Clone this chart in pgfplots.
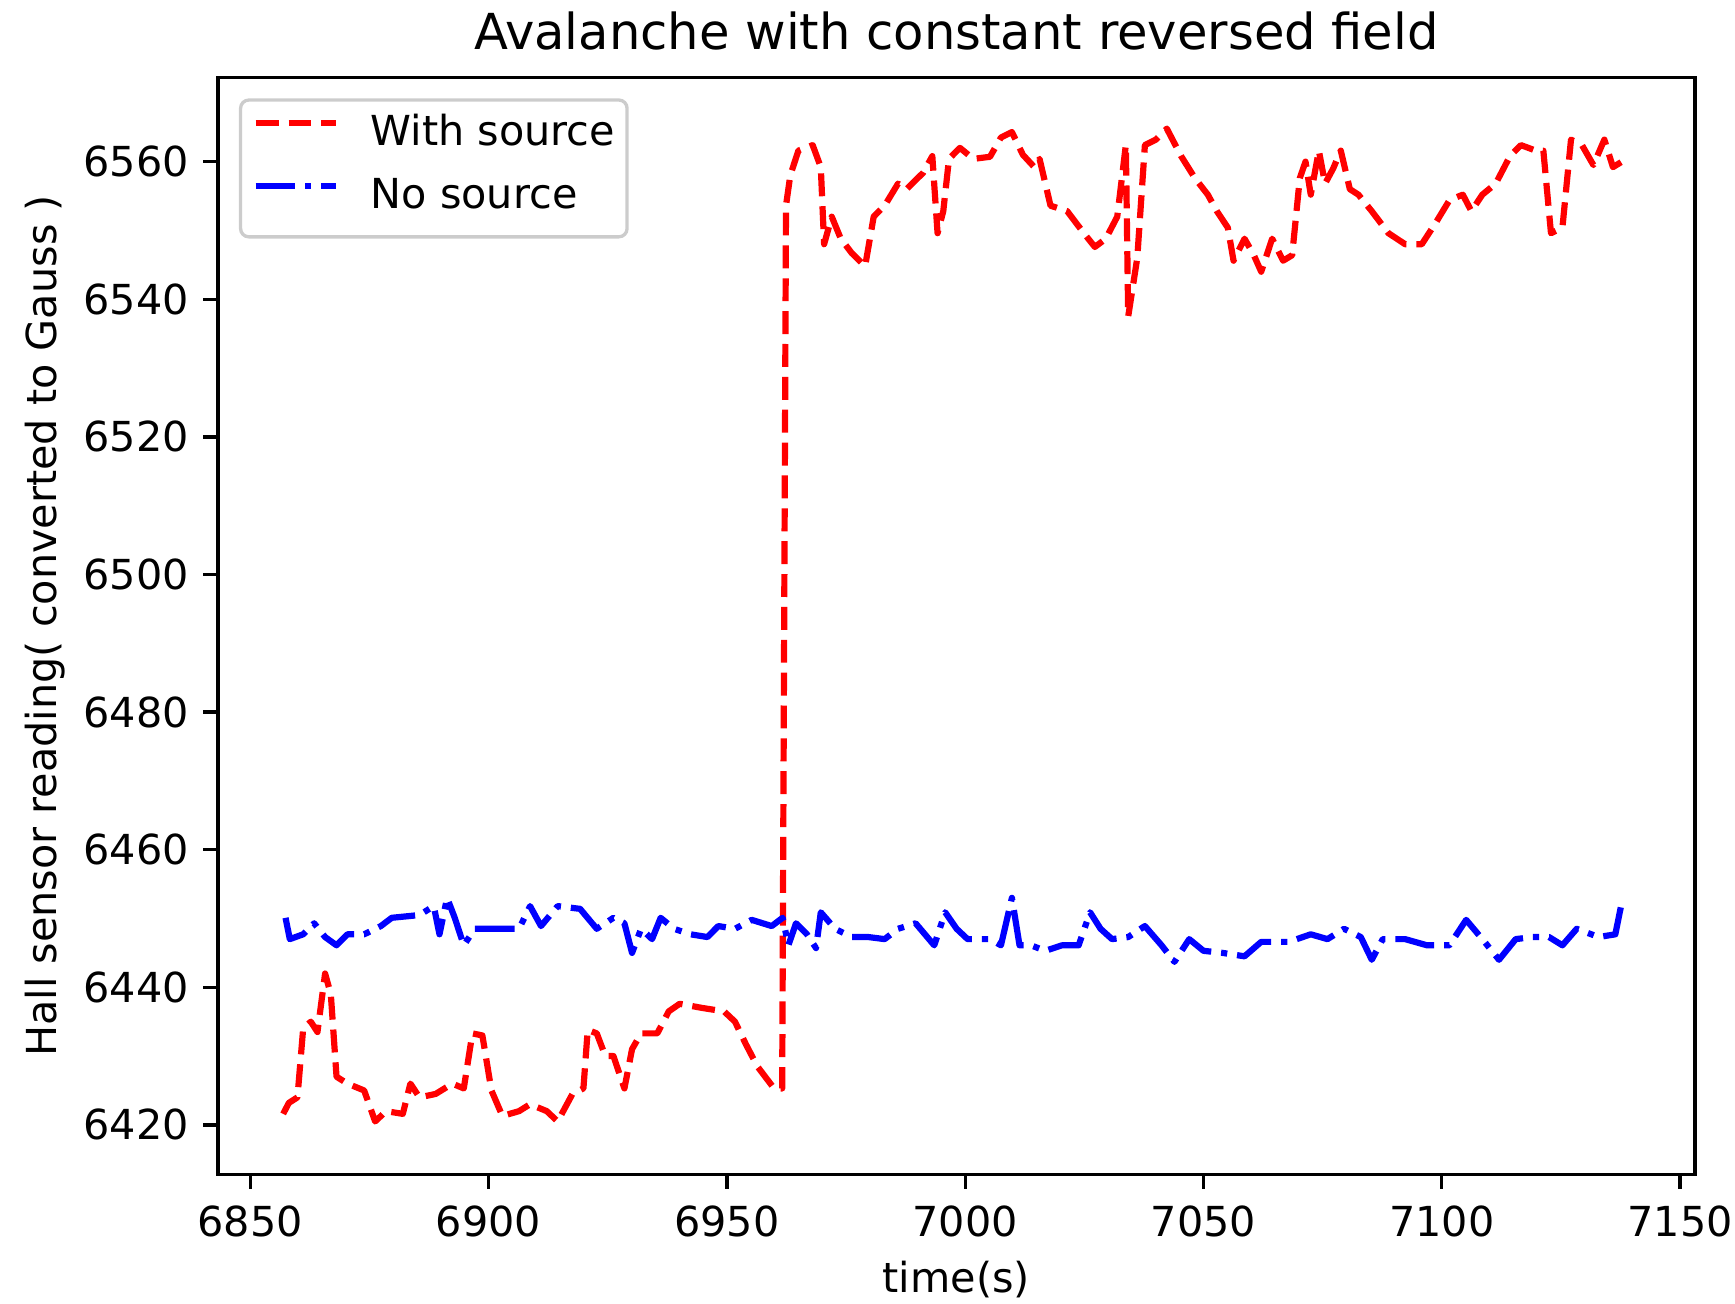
\documentclass[border=0pt]{standalone}
\usepackage{fontspec}
\setmainfont{DejaVu Sans}
\usepackage{pgfplots}
\pgfplotsset{compat=1.18}
\begin{document}
\begin{tikzpicture}
\begin{axis}[
  scale only axis, width=357.3pt, height=265.3pt,
  xmin=6843.2, xmax=7153.1, ymin=6412.8, ymax=6572.2,
  xtick={6850,6900,...,7150}, ytick={6420,6440,...,6560},
  scaled ticks=false,
  /pgf/number format/assume math mode=true,
  /pgf/number format/1000 sep={},
  tick align=outside, major tick length=3.5pt,
  xtick pos=bottom, ytick pos=left,
  every tick/.style={black, line width=0.8pt},
  axis line style={line width=0.8pt},
  xticklabel style={anchor=base, inner sep=0pt, yshift=-11.6pt},
  every axis title shift=0pt,
  title={Avalanche with constant reversed field},
  title style={font=\fontsize{12}{14}\selectfont, at={(axis description cs:0.5,1.02525)}, anchor=base, inner sep=0pt},
  xlabel={time(s)},
  xlabel style={at={(axis description cs:0.5,-0.1078)}, anchor=base, inner sep=0pt},
  ylabel={Hall sensor reading( converted to Gauss )},
  ylabel style={at={(axis description cs:-0.1092,0.5)}, anchor=base, inner sep=0pt},
  legend cell align=left,
  legend image code/.code={\draw[#1] (0pt,3.4pt) -- (19.5pt,3.4pt);},
  legend style={at={(0,1)}, anchor=north west, xshift=5.1pt, yshift=-5pt,
    draw=white!80!black, line width=0.8pt, rounded corners=2pt, fill=white, fill opacity=0.8, text opacity=1,
    inner xsep=2.9pt, inner ysep=3.6pt, row sep=4.5pt, column sep=7.6pt,
    nodes={inner sep=0pt, text height=7.5pt, text depth=3.2pt}},
]
\addplot[red, line width=1.5pt, line join=round, dash pattern=on 5.55pt off 2.4pt] coordinates {
(6856.9,6421.6) (6858.1,6423.2) (6859.9,6424.0) (6861.1,6434.0) (6862.7,6435.0) (6864.1,6433.5)
(6865.7,6442.0) (6866.9,6439.0) (6868.1,6427.0) (6870.4,6426.0) (6873.9,6425.0) (6876.2,6420.5)
(6878.5,6422.0) (6882.0,6421.6) (6883.6,6426.0) (6885.5,6424.0) (6888.9,6424.5) (6892.4,6426.0)
(6894.8,6425.3) (6896.6,6433.3) (6898.7,6433.0) (6900.6,6425.0) (6902.9,6421.3) (6906.4,6422.0)
(6908.7,6423.0) (6912.2,6422.0) (6914.5,6420.5) (6917.6,6424.5) (6919.9,6425.3) (6920.8,6433.8)
(6922.7,6433.3) (6924.5,6430.0) (6926.2,6430.0) (6928.5,6425.3) (6930.1,6431.0) (6932.0,6433.3)
(6935.4,6433.3) (6937.8,6436.5) (6940.1,6437.6) (6944.8,6437.0) (6949.4,6436.5) (6951.7,6435.0)
(6954.0,6431.7) (6956.4,6428.5) (6959.9,6425.3) (6961.6,6425.3) (6962.4,6553.6) (6963.3,6558.0)
(6965.0,6561.6) (6968.0,6562.4) (6969.7,6559.2) (6970.4,6548.0) (6972.0,6552.0) (6973.9,6548.8)
(6976.2,6546.7) (6979.0,6544.8) (6980.8,6552.0) (6983.1,6553.6) (6985.9,6556.8) (6987.7,6556.0)
(6991.2,6558.4) (6993.1,6560.8) (6994.2,6549.6) (6995.4,6552.8) (6996.6,6560.4) (6998.9,6562.0)
(7001.7,6560.4) (7005.2,6560.7) (7007.5,6563.5) (7009.8,6564.3) (7012.1,6561.0) (7014.5,6559.2)
(7015.6,6560.4) (7017.9,6553.6) (7021.4,6552.8) (7024.9,6549.6) (7027.2,6547.6) (7029.5,6548.8)
(7031.9,6552.0) (7033.7,6562.4) (7034.2,6537.5) (7036.1,6546.0) (7037.7,6562.4) (7040.0,6563.2)
(7042.3,6564.8) (7045.3,6560.8) (7048.2,6557.6) (7050.9,6555.2) (7052.8,6552.8) (7055.1,6550.4)
(7056.3,6545.6) (7058.6,6548.8) (7060.5,6546.5) (7062.1,6544.0) (7064.4,6548.8) (7066.7,6545.6)
(7068.6,6546.4) (7070.2,6557.6) (7071.4,6560.0) (7072.5,6555.2) (7074.2,6561.6) (7075.5,6556.8)
(7077.2,6559.0) (7078.8,6561.6) (7080.7,6556.0) (7082.5,6555.2) (7085.3,6552.8) (7088.8,6549.6)
(7092.3,6548.0) (7095.8,6548.0) (7098.8,6551.2) (7101.6,6554.4) (7104.4,6555.2) (7106.2,6552.8)
(7108.5,6555.2) (7111.3,6556.8) (7114.3,6560.8) (7116.6,6562.4) (7119.7,6561.6) (7121.3,6561.6)
(7122.9,6549.6) (7125.3,6550.4) (7127.1,6563.2) (7129.4,6562.4) (7131.8,6559.5) (7134.1,6563.2)
(7135.9,6559.2) (7137.8,6560.0)
};
\addlegendentry{With source}
\addplot[blue, line width=1.5pt, line join=round, dash pattern=on 9.6pt off 2.4pt on 1.5pt off 2.4pt] coordinates {
(6857.4,6450.1) (6858.3,6447.0) (6861.1,6447.7) (6863.4,6449.3) (6865.7,6447.3) (6868.1,6446.1)
(6870.4,6447.7) (6873.9,6447.7) (6877.4,6448.9) (6879.7,6450.1) (6885.5,6450.5) (6888.5,6451.8)
(6889.7,6447.7) (6891.3,6453.0) (6892.9,6450.1) (6894.8,6446.1) (6897.1,6448.5) (6901.7,6448.5)
(6906.4,6448.5) (6908.7,6451.8) (6911.0,6448.9) (6914.5,6451.8) (6919.2,6451.4) (6922.7,6448.5)
(6926.2,6450.1) (6928.5,6449.3) (6930.1,6445.0) (6932.0,6448.5) (6934.3,6447.0) (6936.1,6450.1)
(6938.9,6448.5) (6942.4,6447.7) (6945.9,6447.3) (6948.2,6448.9) (6951.7,6448.5) (6955.2,6449.8)
(6959.4,6448.9) (6961.7,6450.1) (6962.9,6446.1) (6964.5,6449.3) (6966.8,6447.7) (6968.7,6445.7)
(6969.7,6450.9) (6972.7,6448.5) (6976.2,6447.3) (6979.7,6447.3) (6983.1,6447.0) (6985.9,6448.5)
(6989.6,6449.3) (6993.5,6446.1) (6995.8,6450.9) (6998.2,6448.5) (7000.5,6447.0) (7005.2,6447.0)
(7007.5,6446.1) (7009.8,6453.0) (7011.4,6446.1) (7013.8,6446.1) (7016.8,6445.3) (7020.3,6446.1)
(7023.8,6446.1) (7026.2,6450.9) (7028.4,6448.5) (7030.8,6447.0) (7034.2,6447.3) (7037.7,6448.9)
(7041.2,6446.1) (7043.9,6443.7) (7047.0,6447.0) (7050.0,6445.3) (7054.0,6445.0) (7058.6,6444.5)
(7062.1,6446.6) (7067.9,6446.6) (7072.5,6447.7) (7076.0,6447.0) (7079.5,6448.5) (7083.0,6447.3)
(7085.3,6444.0) (7087.6,6447.0) (7092.3,6447.0) (7096.9,6446.1) (7101.6,6446.1) (7105.1,6449.8)
(7108.5,6447.0) (7112.0,6444.0) (7115.5,6447.0) (7119.0,6447.3) (7122.5,6447.3) (7125.3,6446.1)
(7128.3,6448.5) (7132.9,6447.3) (7136.4,6447.7) (7137.8,6452.5)
};
\addlegendentry{No source}
\end{axis}
\pgfresetboundingbox
\path[use as bounding box] ([xshift=-52.7pt,yshift=-31.1pt]current axis.south west) rectangle ([xshift=9.7pt,yshift=18.8pt]current axis.north east);
\end{tikzpicture}
\end{document}
